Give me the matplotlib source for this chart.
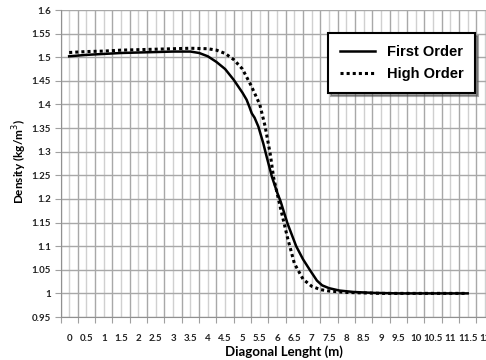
import numpy as np
import matplotlib.pyplot as plt
from matplotlib.ticker import MultipleLocator, FixedLocator

# First Order (solid)
x_first = [0, 0.5, 1, 1.5, 2, 2.5, 3, 3.5, 3.75, 4, 4.25, 4.5, 4.75, 5, 5.12, 5.2, 5.27,
           5.35, 5.46, 5.6, 5.7, 5.85, 6.0, 6.1, 6.3, 6.55, 6.75, 6.95, 7.15, 7.3, 7.5,
           7.8, 8.2, 8.8, 9.5, 10.5, 11.5]
y_first = [1.502, 1.505, 1.507, 1.509, 1.510, 1.511, 1.512, 1.512, 1.509, 1.502, 1.490,
           1.475, 1.452, 1.425, 1.410, 1.395, 1.381, 1.372, 1.353, 1.318, 1.289, 1.247,
           1.214, 1.195, 1.148, 1.100, 1.072, 1.049, 1.027, 1.017, 1.011, 1.006, 1.003,
           1.001, 1.000, 1.000, 1.000]

# High Order (dotted)
x_high = [0, 0.5, 1, 1.5, 2, 2.5, 3, 3.5, 4, 4.25, 4.5, 4.75, 5, 5.25, 5.5, 5.65, 5.8,
          5.9, 6.1, 6.3, 6.5, 6.75, 7, 7.25, 7.5, 8, 9, 10, 11, 11.5]
y_high = [1.510, 1.512, 1.513, 1.515, 1.516, 1.517, 1.518, 1.519, 1.518, 1.515, 1.508,
          1.495, 1.475, 1.440, 1.400, 1.355, 1.296, 1.245, 1.180, 1.118, 1.063, 1.030,
          1.015, 1.008, 1.005, 1.002, 1.000, 1.000, 1.000, 1.000]

x_labels = ["0", "0.5", "1", "1.5", "2", "2.5", "3", "3.5", "4", "4.5", "5", "5.5", "6",
            "6.5", "7", "7.5", "8", "8.5", "9", "9.5", "10", "10.5", "11", "11.5", "12"]

plt.rcParams['font.family'] = ['Lato', 'DejaVu Sans']

fig = plt.figure(figsize=(4.86, 3.6), dpi=100)
ax = fig.add_axes([60.5 / 486, 43 / 360, 433.2 / 486, 307 / 360])

ax.plot(x_first, y_first, color='black', lw=1.8, label='First Order', zorder=3)
ax.plot(x_high, y_high, color='black', lw=2.2, linestyle=(0, (1, 1)),
        dash_capstyle='butt', label='High Order', zorder=3)

ax.set_xlim(-0.25, 12.25)
ax.set_ylim(0.95, 1.6)

label_pos = np.arange(len(x_labels)) * 0.5
ax.xaxis.set_major_locator(FixedLocator(label_pos - 0.25))
ax.xaxis.set_minor_locator(FixedLocator(label_pos))
ax.set_xticklabels([""] * len(label_pos))
ax.xaxis.set_minor_formatter(plt.FixedFormatter(x_labels))
y_ticks = np.round(np.arange(0.95, 1.601, 0.05), 2)
ax.set_yticks(y_ticks)
ax.set_yticklabels([f"{v:g}" for v in y_ticks])

ax.grid(which='major', color='#a8a8a8', lw=1.0)
ax.grid(which='minor', axis='x', color='#d0d0d0', lw=1.0)
ax.set_axisbelow(True)

ax.tick_params(axis='x', which='major', length=4, color='#a0a0a0', labelsize=7)
ax.tick_params(axis='x', which='minor', length=0, pad=12, labelsize=7)
ax.tick_params(axis='y', length=4, color='#a0a0a0', labelsize=7, pad=3)
for lab in ax.get_xticklabels(minor=True) + ax.get_yticklabels():
    lab.set_fontweight('bold')
    lab.set_color('#222222')

for side in ['top', 'right']:
    ax.spines[side].set_visible(False)
for side in ['left', 'bottom']:
    ax.spines[side].set_color('#909090')

ax.set_xlabel("Diagonal Lenght (m)", fontsize=9.5, fontweight='bold', va='center')
ax.set_ylabel("Density (kg/m$^3$)", fontsize=8.5, fontweight='bold', va='center')
ax.xaxis.set_label_coords(0.516, -0.114)
ax.yaxis.set_label_coords(-0.0935, 0.505)

leg = ax.legend(loc='upper right', bbox_to_anchor=(475 / 486, 1 - 33 / 360),
                bbox_transform=fig.transFigure, borderaxespad=0, fancybox=False,
                shadow=True, prop={'family': 'Liberation Sans', 'weight': 'bold', 'size': 10.5},
                handlelength=2.4, borderpad=0.8, labelspacing=0.6)
leg.get_frame().set_edgecolor('black')
leg.get_frame().set_linewidth(1.5)

fig.savefig("out.png", dpi=100)
